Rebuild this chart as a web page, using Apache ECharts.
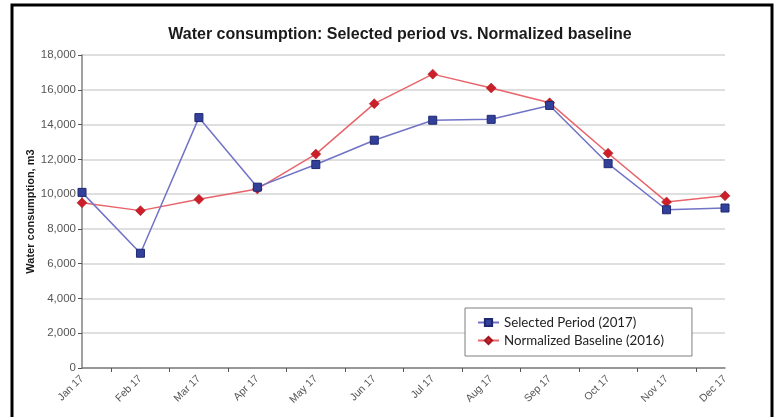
<!DOCTYPE html>
<html>
<head>
<meta charset="utf-8">
<script src="https://cdn.jsdelivr.net/npm/echarts@6/dist/echarts.min.js"></script>
<style>
html,body{margin:0;padding:0;background:#fff;}
#chart{width:778px;height:417px;}
</style>
</head>
<body>
<div id="chart"></div>
<script>
const categories = ['Jan 17','Feb 17','Mar 17','Apr 17','May 17','Jun 17','Jul 17','Aug 17','Sep 17','Oct 17','Nov 17','Dec 17'];
const selectedPeriod2017 = [10100, 6600, 14400, 10400, 11700, 13100, 14250, 14300, 15100, 11750, 9100, 9200];
const normalizedBaseline2016 = [9500, 9050, 9700, 10300, 12300, 15200, 16900, 16100, 15250, 12350, 9550, 9900];
const titleText = 'Water consumption: Selected period vs. Normalized baseline';
const yAxisName = 'Water consumption, m3';
const seriesNames = ['Selected Period (2017)', 'Normalized Baseline (2016)'];

// half-step positions for tick marks between months
const tickSlots = [];
for (let i = 0; i < categories.length * 2 - 1; i++) tickSlots.push('');

const chart = echarts.init(document.getElementById('chart'));
chart.setOption({
  backgroundColor: '#fff',
  animation: false,
  title: {
    text: titleText,
    left: 395,
    top: 22,
    textAlign: 'center',
    textStyle: { fontFamily: 'Liberation Sans, Arial, sans-serif', fontSize: 16, fontWeight: 'bold', color: '#1a1a1a' }
  },
  graphic: [{
    type: 'rect',
    shape: { x: 12, y: 5, width: 760, height: 430 },
    style: { fill: 'none', stroke: '#000', lineWidth: 3 },
    silent: true,
    z: 100
  }],
  grid: { left: 82, right: 53, top: 55, bottom: 49 },
  legend: {
    orient: 'vertical',
    left: 465,
    top: 308,
    padding: [8, 28, 9, 12],
    itemGap: 5,
    itemWidth: 21,
    itemHeight: 9,
    backgroundColor: '#fff',
    borderColor: '#7f7f7f',
    borderWidth: 1,
    textStyle: { fontFamily: 'Lato, Open Sans, sans-serif', fontSize: 13.3, color: '#222' },
    data: seriesNames
  },
  xAxis: [{
    type: 'category',
    data: categories,
    boundaryGap: false,
    axisLine: { lineStyle: { color: '#808080', width: 1.5 } },
    axisTick: { show: false },
    axisLabel: {
      rotate: 45,
      fontFamily: 'Liberation Sans, Arial, sans-serif',
      fontSize: 10.5,
      color: '#555',
      margin: 9
    },
    splitLine: { show: false }
  }, {
    type: 'category',
    data: tickSlots,
    boundaryGap: false,
    position: 'bottom',
    axisLine: { show: false },
    axisLabel: { show: false },
    axisTick: {
      show: true,
      length: 4,
      inside: false,
      interval: function (i) { return i % 2 === 1; },
      lineStyle: { color: '#555', width: 1 }
    }
  }],
  yAxis: {
    type: 'value',
    min: 0,
    max: 18000,
    interval: 2000,
    name: yAxisName,
    nameLocation: 'middle',
    nameGap: 46,
    nameMoveOverlap: false,
    nameTextStyle: { fontFamily: 'Liberation Sans, Arial, sans-serif', fontSize: 11, fontWeight: 'bold', color: '#1a1a1a' },
    axisLine: { show: true, lineStyle: { color: '#808080', width: 1.5 } },
    axisTick: { show: true, length: 4, lineStyle: { color: '#555' } },
    axisLabel: {
      fontFamily: 'Liberation Sans, Arial, sans-serif',
      fontSize: 11.5,
      color: '#555',
      margin: 6,
      formatter: function (v) { return v.toLocaleString('en-US'); }
    },
    splitLine: { show: true, lineStyle: { color: '#d4d4d4', width: 1.5 } }
  },
  series: [{
    name: seriesNames[0],
    type: 'line',
    data: selectedPeriod2017,
    symbol: 'rect',
    symbolSize: 8,
    lineStyle: { color: '#7073c6', width: 1.5 },
    itemStyle: { color: '#33409a', borderColor: '#1e2870', borderWidth: 1 },
    z: 3
  }, {
    name: seriesNames[1],
    type: 'line',
    data: normalizedBaseline2016,
    symbol: 'diamond',
    symbolSize: 10,
    lineStyle: { color: '#e8646a', width: 1.5 },
    itemStyle: { color: '#cc1f2a', borderColor: '#a01820', borderWidth: 0.5 },
    z: 2
  }]
});
</script>
</body>
</html>
